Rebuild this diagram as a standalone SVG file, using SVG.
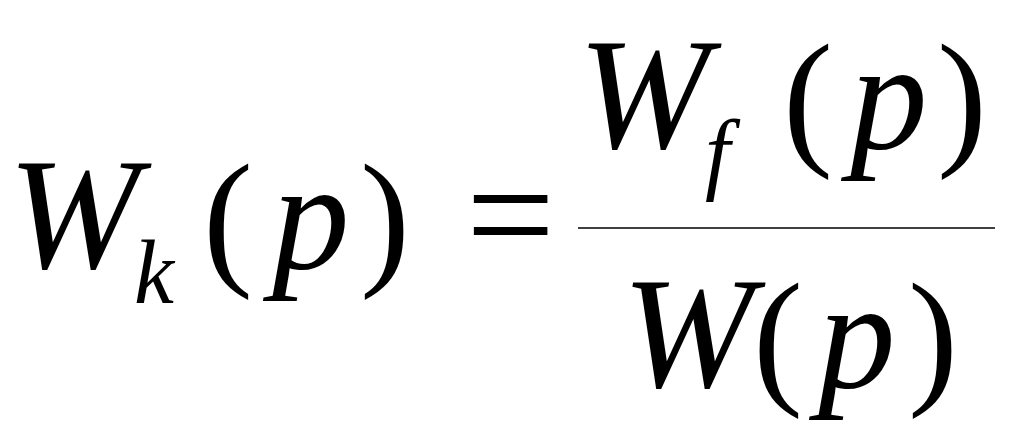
<svg xmlns="http://www.w3.org/2000/svg" width="1024" height="443" viewBox="0 0 1024 443">
<style>
.v{font-family:"Liberation Serif","DejaVu Serif",serif;font-style:italic;fill:#000}
.p{font-family:"Liberation Serif","DejaVu Serif",serif;fill:#000}
</style>
<rect width="1024" height="443" fill="#fff"/>
<g id="lhs">
<text class="v" x="8" y="268" font-size="158">W</text>
<text class="v" x="134" y="303" font-size="90">k</text>
<text class="p" x="203" y="268" font-size="150">(</text>
<text class="v" x="272" y="268" font-size="155">p</text>
<text class="p" x="360" y="268" font-size="150">)</text>
</g>
<g id="eq">
<text class="p" x="466" y="268" font-size="158">=</text>
</g>
<g id="num">
<text class="v" x="578" y="148" font-size="158">W</text>
<text class="v" x="705" y="183" font-size="90">f</text>
<text class="p" x="783" y="148" font-size="150">(</text>
<text class="v" x="850" y="148" font-size="155">p</text>
<text class="p" x="937" y="148" font-size="150">)</text>
</g>
<line x1="578" y1="228" x2="995" y2="228" stroke="#000" stroke-width="1.5"/>
<g id="den">
<text class="v" x="622" y="387" font-size="158">W</text>
<text class="p" x="753" y="387" font-size="150">(</text>
<text class="v" x="818" y="387" font-size="155">p</text>
<text class="p" x="908" y="387" font-size="150">)</text>
</g>
</svg>
